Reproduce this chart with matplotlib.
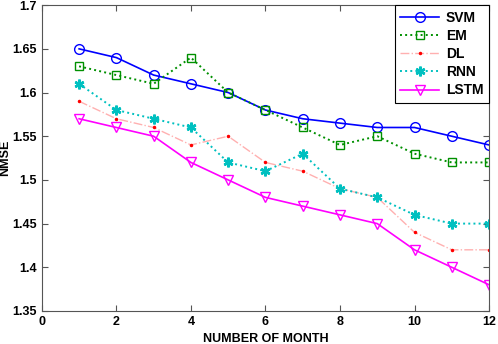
import matplotlib
matplotlib.use("Agg")
import matplotlib.pyplot as plt

plt.rcParams['font.family'] = ['Liberation Sans', 'DejaVu Sans']
plt.rcParams['font.weight'] = 'bold'

months = list(range(1, 13))
svm = [1.65, 1.64, 1.62, 1.61, 1.60, 1.58, 1.57, 1.565, 1.56, 1.56, 1.55, 1.54]
em = [1.63, 1.62, 1.61, 1.64, 1.60, 1.58, 1.56, 1.54, 1.55, 1.53, 1.52, 1.52]
dl = [1.59, 1.57, 1.56, 1.54, 1.55, 1.52, 1.51, 1.49, 1.48, 1.44, 1.42, 1.42]
rnn = [1.61, 1.58, 1.57, 1.56, 1.52, 1.51, 1.53, 1.49, 1.48, 1.46, 1.45, 1.45]
lstm = [1.57, 1.56, 1.55, 1.52, 1.50, 1.48, 1.47, 1.46, 1.45, 1.42, 1.40, 1.38]

fig = plt.figure(figsize=(4.98, 3.44), dpi=100)
ax = fig.add_axes([0.084, 0.096, 0.898, 0.889])

ax.plot(months, svm, '-', color='#0000ff', marker='o', mfc='none', ms=7,
        lw=1.2, label='SVM')
ax.plot(months, em, ':', color='#009000', marker='s', mfc='none', ms=6,
        lw=1.4, label='EM')
ax.plot(months, dl, '-.', color='#ffb0b0', marker='.', mfc='red', mec='red',
        ms=3, lw=1.0, label='DL')
# MATLAB-style asterisk marker
ax.plot(months, rnn, ':', color='#00c0c0', marker=(6, 2, 0), ms=7, mew=1.8,
        lw=1.4, label='RNN')
ax.plot(months, lstm, '-', color='#ff00ff', marker='v', mfc='none', ms=7,
        lw=1.2, label='LSTM')

ax.set_xlim(0, 12)
ax.set_ylim(1.35, 1.7)
ax.set_xticks([0, 2, 4, 6, 8, 10, 12])
ax.set_yticks([1.35, 1.4, 1.45, 1.5, 1.55, 1.6, 1.65, 1.7])
ax.set_yticklabels(['1.35', '1.4', '1.45', '1.5', '1.55', '1.6', '1.65', '1.7'])
ax.tick_params(direction='in', top=True, right=True, labelsize=9,
               color='#555555', length=4)
for s in ax.spines.values():
    s.set_color('#555555')

ax.set_xlabel('NUMBER OF MONTH', fontsize=9, fontweight='bold')
ax.set_ylabel('NMSE', fontsize=9, fontweight='bold')
ax.yaxis.set_label_coords(-0.068, 0.5)

leg = ax.legend(loc='upper right', fontsize=10, fancybox=False, framealpha=1,
                edgecolor='black', handlelength=2.8, borderaxespad=0,
                labelspacing=0.3, handletextpad=0.5)
leg.get_frame().set_linewidth(0.8)

fig.savefig('out.png', dpi=100)
